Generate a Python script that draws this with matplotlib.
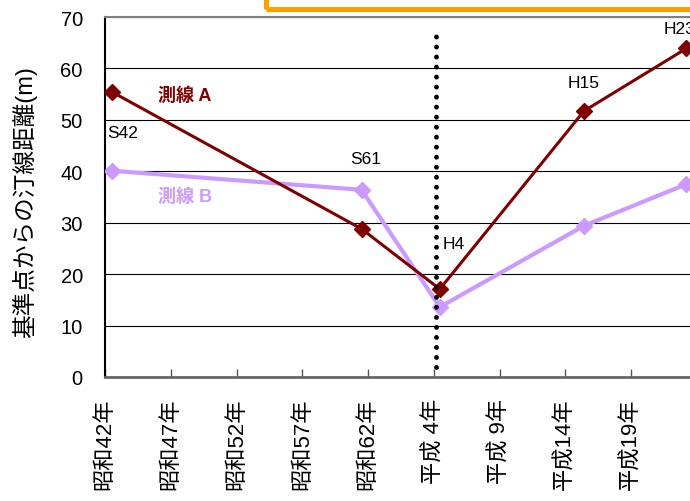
import matplotlib
matplotlib.use("Agg")
import matplotlib.pyplot as plt
from matplotlib.patches import Rectangle
from matplotlib.transforms import ScaledTranslation

plt.rcParams['font.family'] = ['Liberation Sans', 'Noto Sans CJK JP', 'DejaVu Sans']

# survey years (decimal) and distances from the reference point (m)
years = [1967.55, 1986.5, 1992.45, 2003.4, 2011.2]
point_names = ['S42', 'S61', 'H4', 'H15', 'H23']
line_a = [55.4, 28.8, 17.1, 51.7, 63.9]
line_b = [40.1, 36.4, 13.6, 29.4, 37.5]

tick_years = [1967, 1972, 1977, 1982, 1987, 1992, 1997, 2002, 2007]
tick_labels = ['昭和42年', '昭和47年', '昭和52年', '昭和57年', '昭和62年',
               '平成 4年', '平成 9年', '平成14年', '平成19年']

fig = plt.figure(figsize=(6.9, 5.02), dpi=100)
ax = fig.add_axes([105 / 690, 124 / 502, 592 / 690, 360 / 502])

# the two survey lines
ax.plot(years, line_a, color='#800000', lw=2.2, marker='D', ms=8, zorder=4)
ax.plot(years, line_b, color='#CC99FF', lw=3, marker='D', ms=8, zorder=3)

# dotted marker line around H4
ax.plot([1992.15, 1992.15], [2, 67.3], color='black', lw=3.5,
        linestyle=(0, (0.01, 2.05)), dash_capstyle='round', zorder=5)

# point labels
label_pos = [(1967.15, 47.6), (1985.6, 42.4), (1992.7, 26), (2002.2, 57.2), (2009.5, 67.7)]
for name, (px, py) in zip(point_names, label_pos):
    ax.text(px, py, name, fontsize=12.5, va='center', ha='left', clip_on=False)

ax.text(1971.0, 54.8, '測線 A', fontsize=13, fontweight='bold', color='#800000',
        va='center', ha='left')
ax.text(1971.0, 35.2, '測線 B', fontsize=13, fontweight='bold', color='#CC99FF',
        va='center', ha='left')

ax.set_xlim(1967, 2012)
ax.set_ylim(0, 70)
ax.set_yticks(range(0, 71, 10))
ax.set_xticks(tick_years)
ax.set_xticklabels(tick_labels, rotation=90, fontsize=16, va='top')
for lab in ax.get_xticklabels():
    lab.set_transform(lab.get_transform() + ScaledTranslation(3 / 100, 0, fig.dpi_scale_trans))

ax.grid(axis='y', color='black', lw=0.8)
ax.tick_params(axis='y', length=0, pad=16, labelsize=14.5)
ax.tick_params(axis='x', direction='in', length=6, width=1, color='#555555', pad=15)

ax.spines['right'].set_visible(False)
ax.spines['top'].set_color('#808080')
ax.spines['top'].set_linewidth(1.5)
ax.spines['left'].set_color('black')
ax.spines['left'].set_linewidth(1.5)
ax.spines['bottom'].set_color('#666666')
ax.spines['bottom'].set_linewidth(2)

ax.set_ylabel('基準点からの汀線距離(m)', fontsize=17, va='center')
ax.yaxis.set_label_coords(-0.135, 0.49)

# orange frame cut off at the top of the picture
fig.patches.append(Rectangle((266 / 690, 492.5 / 502), 0.8, 0.2,
                             transform=fig.transFigure, fill=False,
                             edgecolor='#FFA000', lw=3.6))

fig.savefig('out.png', dpi=100)
